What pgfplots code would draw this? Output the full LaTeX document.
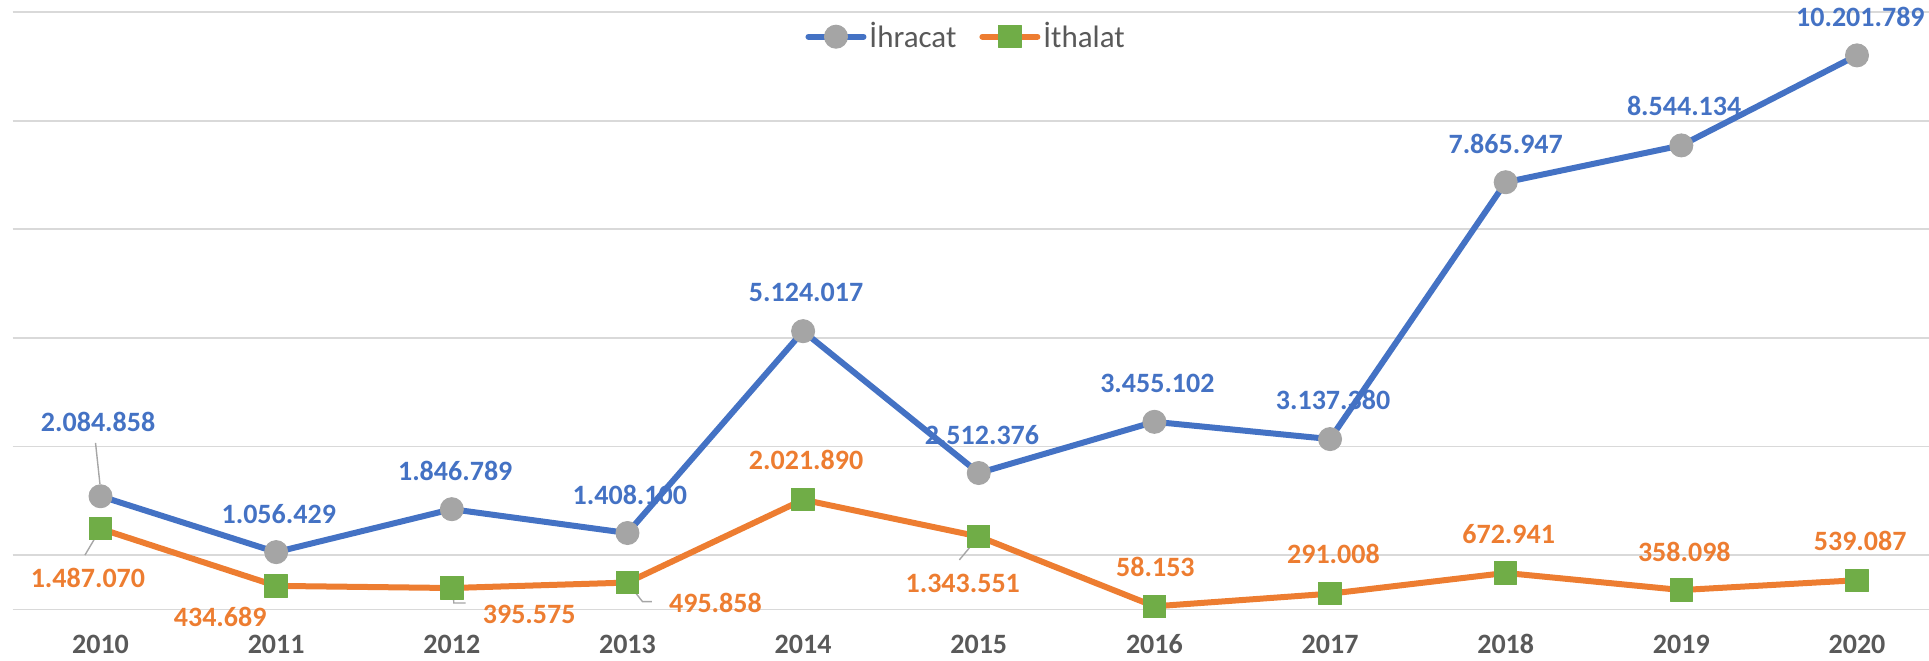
\documentclass[border=0pt]{standalone}
\usepackage{pgfplots}
\pgfplotsset{compat=1.18}
\usepackage{pgfplotstable}
\usepackage{fontspec}
\setmainfont{Carlito}
\definecolor{cblue}{HTML}{4472C4}
\definecolor{corange}{HTML}{ED7D31}
\definecolor{cgray}{HTML}{A5A5A5}
\definecolor{cgreen}{HTML}{70AD47}
\definecolor{gridc}{HTML}{D9D9D9}
\definecolor{txt}{HTML}{595959}
\definecolor{leadc}{HTML}{A6A6A6}

\pgfplotstableread{
x y dx dy lab
2010 2084858 -1.2 37 2.084.858
2011 1056429 1.3 19.2 1.056.429
2012 1846789 1.7 19.3 1.846.789
2013 1408100 1.2 18.9 1.408.100
2014 5124017 1.5 19.5 5.124.017
2015 2512376 1.6 18.9 2.512.376
2016 3455102 1.5 19.2 3.455.102
2017 3137380 1.5 19.6 3.137.380
2018 7865947 0 19 7.865.947
2019 8544134 1.4 19.5 8.544.134
2020 10201789 1.7 19.2 10.201.789
}\ihr

\pgfplotstableread{
x y dx dy lab
2010 1487070 -6.3 -24.8 1.487.070
2011 434689 -28 -15.5 434.689
2012 395575 38.7 -13.3 395.575
2013 495858 44 -10.3 495.858
2014 2021890 1.5 20 2.021.890
2015 1343551 -8 -23.3 1.343.551
2016 58153 0.5 19.7 58.153
2017 291008 1.7 20 291.008
2018 672941 1.5 19.3 672.941
2019 358098 1.5 19 358.098
2020 539087 1.6 19.5 539.087
}\ith

\begin{document}
\begin{tikzpicture}
\begin{axis}[
  at={(0,0)}, anchor=south west,
  scale only axis, width=958.15pt, height=298.75pt,
  xmin=2009.5, xmax=2020.41, ymin=0, ymax=11000000,
  clip=false,
  axis line style={draw=none},
  ytick={0,1000000,3000000,5000000,7000000,9000000,11000000},
  yticklabels={},
  scaled y ticks=false,
  ymajorgrids, grid style={draw=gridc, line width=0.9pt},
  xtick={2010,2011,2012,2013,2014,2015,2016,2017,2018,2019,2020},
  xticklabels={2010,2011,2012,2013,2014,2015,2016,2017,2018,2019,2020},
  major tick length=0pt,
  xticklabel style={anchor=base, yshift=-21.9pt, font=\fontsize{14}{16}\selectfont\bfseries, text=txt},
  legend style={at={(0.4978,1)}, yshift=-12.35pt, anchor=center, draw=none, fill=none,
    legend columns=-1, font=\fontsize{15.5}{18}\selectfont, text=txt,
    /tikz/every even column/.append style={column sep=10pt},
    nodes={inner sep=1.5pt}},
  legend image code/.code={
    \draw[#1, mark repeat=2, mark phase=2] plot coordinates {(0pt,0pt) (13.75pt,0pt) (27.5pt,0pt)};
  },
]
\addplot[draw=cblue, line width=3pt, line cap=round, line join=round,
  mark=*, mark size=5.75pt, mark options={fill=cgray, draw=cgray, line width=0.5pt},
  nodes near coords, point meta=explicit symbolic,
  visualization depends on={\thisrow{dx} \as \dx},
  visualization depends on={\thisrow{dy} \as \dy},
  every node near coord/.append style={anchor=center, font=\fontsize{14}{16}\selectfont\bfseries,
    xshift=\dx, yshift=\dy, text=cblue}]
  table[x=x, y=y, meta=lab]{\ihr};
\addlegendentry{İhracat}
\addplot[draw=corange, line width=3pt, line cap=round, line join=round,
  mark=square*, mark size=5.6pt, mark options={fill=cgreen, draw=cgreen, line width=0.5pt},
  nodes near coords, point meta=explicit symbolic,
  visualization depends on={\thisrow{dx} \as \dx},
  visualization depends on={\thisrow{dy} \as \dy},
  every node near coord/.append style={anchor=center, font=\fontsize{14}{16}\selectfont\bfseries,
    xshift=\dx, yshift=\dy, text=corange}]
  table[x=x, y=y, meta=lab]{\ith};
\addlegendentry{İthalat}
% leader lines for displaced data labels
\draw[leadc, line width=0.7pt] ([shift={(-2.5pt,26.7pt)}]axis cs:2010,2084858) -- ([shift={(-0.3pt,6.2pt)}]axis cs:2010,2084858);
\draw[leadc, line width=0.7pt] (axis cs:2010,1487070) -- ([shift={(-7.8pt,-13.2pt)}]axis cs:2010,1487070);
\draw[leadc, line width=0.7pt] ([shift={(0.6pt,0pt)}]axis cs:2012,395575) -- ([shift={(1pt,-7.5pt)}]axis cs:2012,395575) -- ([shift={(6.9pt,-7.5pt)}]axis cs:2012,395575);
\draw[leadc, line width=0.7pt] (axis cs:2013,495858) -- ([shift={(7.5pt,-9.5pt)}]axis cs:2013,495858) -- ([shift={(12.2pt,-9.5pt)}]axis cs:2013,495858);
\draw[leadc, line width=0.7pt] (axis cs:2015,1343551) -- ([shift={(-9.7pt,-11.7pt)}]axis cs:2015,1343551);
\end{axis}
\pgfresetboundingbox
\useasboundingbox (-6.35pt,-25.25pt) rectangle (958.15pt,304.75pt);
\end{tikzpicture}
\end{document}
